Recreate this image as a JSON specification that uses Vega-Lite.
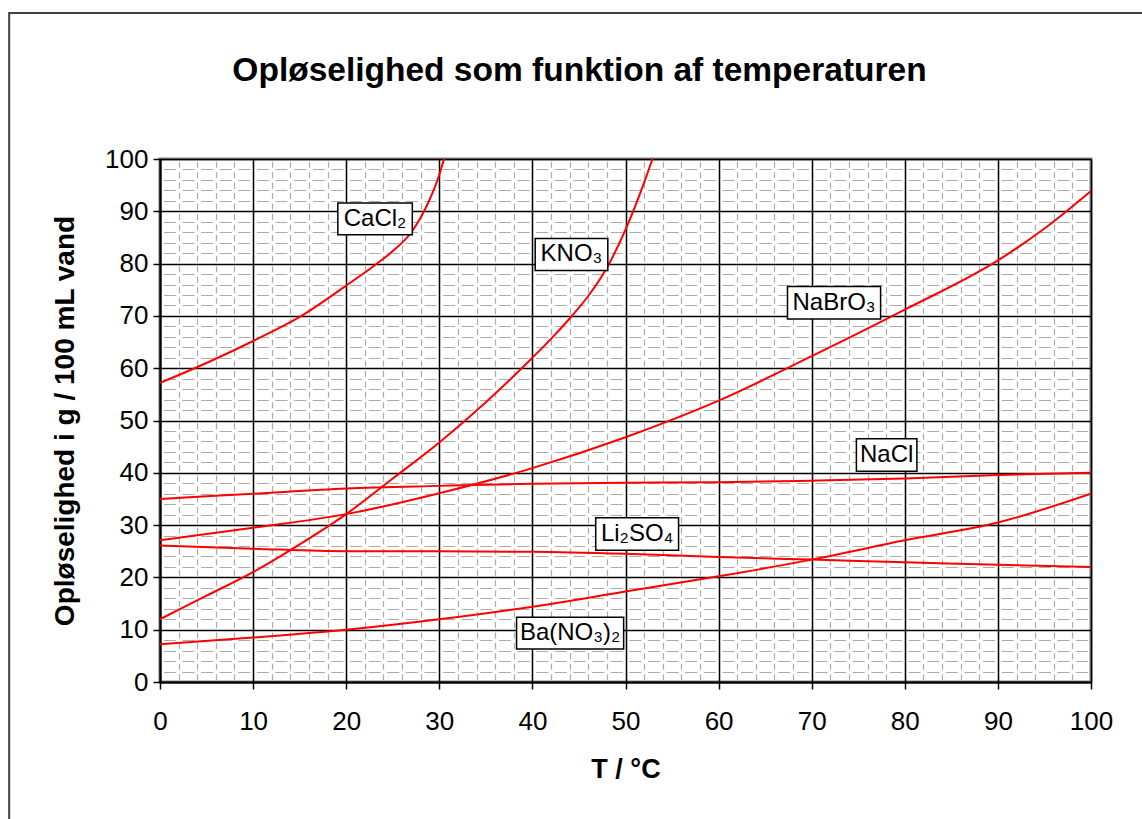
{
  "$schema": "https://vega.github.io/schema/vega-lite/v6.json",
  "width": 931,
  "height": 523,
  "autosize": {"type": "none"},
  "padding": {"left": 160, "top": 159, "right": 51, "bottom": 137},
  "background": "white",
  "title": {
    "text": "Opløselighed som funktion af temperaturen",
    "font": "Liberation Sans",
    "fontSize": 33.5,
    "fontWeight": "bold",
    "color": "#000000",
    "anchor": "middle",
    "frame": "group",
    "baseline": "alphabetic",
    "dx": -46,
    "offset": -102
  },
  "config": {
    "view": {"stroke": "#808080", "strokeWidth": 3},
    "font": "Liberation Sans"
  },
  "datasets": {
    "curves": [
      {"s": "CaCl2", "T": 0, "v": 57.2},
      {"s": "CaCl2", "T": 5, "v": 61},
      {"s": "CaCl2", "T": 10, "v": 65.2},
      {"s": "CaCl2", "T": 15, "v": 69.8},
      {"s": "CaCl2", "T": 20, "v": 75.8},
      {"s": "CaCl2", "T": 23, "v": 79.6},
      {"s": "CaCl2", "T": 25, "v": 82.4},
      {"s": "CaCl2", "T": 27, "v": 86},
      {"s": "CaCl2", "T": 28, "v": 88.8},
      {"s": "CaCl2", "T": 29, "v": 92.4},
      {"s": "CaCl2", "T": 30, "v": 97},
      {"s": "CaCl2", "T": 30.5, "v": 100},
      {"s": "KNO3", "T": 0, "v": 12},
      {"s": "KNO3", "T": 5, "v": 16.5},
      {"s": "KNO3", "T": 10, "v": 21},
      {"s": "KNO3", "T": 15, "v": 26.3},
      {"s": "KNO3", "T": 20, "v": 32.1},
      {"s": "KNO3", "T": 25, "v": 38.9},
      {"s": "KNO3", "T": 30, "v": 45.8},
      {"s": "KNO3", "T": 35, "v": 53.5},
      {"s": "KNO3", "T": 40, "v": 62},
      {"s": "KNO3", "T": 42, "v": 65.6},
      {"s": "KNO3", "T": 44, "v": 69.5},
      {"s": "KNO3", "T": 46, "v": 73.8},
      {"s": "KNO3", "T": 48, "v": 79.2},
      {"s": "KNO3", "T": 50, "v": 86.5},
      {"s": "KNO3", "T": 52, "v": 95.5},
      {"s": "KNO3", "T": 52.9, "v": 100},
      {"s": "NaBrO3", "T": 0, "v": 27.1},
      {"s": "NaBrO3", "T": 10, "v": 29.5},
      {"s": "NaBrO3", "T": 20, "v": 32.1},
      {"s": "NaBrO3", "T": 30, "v": 36.1},
      {"s": "NaBrO3", "T": 40, "v": 40.9},
      {"s": "NaBrO3", "T": 50, "v": 46.8},
      {"s": "NaBrO3", "T": 60, "v": 53.8},
      {"s": "NaBrO3", "T": 70, "v": 62.3},
      {"s": "NaBrO3", "T": 80, "v": 71.2},
      {"s": "NaBrO3", "T": 90, "v": 80.6},
      {"s": "NaBrO3", "T": 95, "v": 86.7},
      {"s": "NaBrO3", "T": 100, "v": 93.9},
      {"s": "NaCl", "T": 0, "v": 35},
      {"s": "NaCl", "T": 10, "v": 36},
      {"s": "NaCl", "T": 20, "v": 37},
      {"s": "NaCl", "T": 30, "v": 37.5},
      {"s": "NaCl", "T": 40, "v": 37.9},
      {"s": "NaCl", "T": 50, "v": 38.1},
      {"s": "NaCl", "T": 60, "v": 38.2},
      {"s": "NaCl", "T": 70, "v": 38.5},
      {"s": "NaCl", "T": 80, "v": 38.9},
      {"s": "NaCl", "T": 90, "v": 39.6},
      {"s": "NaCl", "T": 100, "v": 40},
      {"s": "Li2SO4", "T": 0, "v": 26.1},
      {"s": "Li2SO4", "T": 10, "v": 25.5},
      {"s": "Li2SO4", "T": 20, "v": 25.0},
      {"s": "Li2SO4", "T": 30, "v": 25.0},
      {"s": "Li2SO4", "T": 40, "v": 24.9},
      {"s": "Li2SO4", "T": 50, "v": 24.5},
      {"s": "Li2SO4", "T": 60, "v": 23.9},
      {"s": "Li2SO4", "T": 70, "v": 23.4},
      {"s": "Li2SO4", "T": 80, "v": 22.9},
      {"s": "Li2SO4", "T": 90, "v": 22.4},
      {"s": "Li2SO4", "T": 100, "v": 22.0},
      {"s": "Ba(NO3)2", "T": 0, "v": 7.2},
      {"s": "Ba(NO3)2", "T": 10, "v": 8.5},
      {"s": "Ba(NO3)2", "T": 20, "v": 10.0},
      {"s": "Ba(NO3)2", "T": 30, "v": 12.0},
      {"s": "Ba(NO3)2", "T": 40, "v": 14.4},
      {"s": "Ba(NO3)2", "T": 50, "v": 17.3},
      {"s": "Ba(NO3)2", "T": 60, "v": 20.2},
      {"s": "Ba(NO3)2", "T": 70, "v": 23.4},
      {"s": "Ba(NO3)2", "T": 80, "v": 27.1},
      {"s": "Ba(NO3)2", "T": 90, "v": 30.5},
      {"s": "Ba(NO3)2", "T": 100, "v": 36.0}
    ],
    "labels": [
      {"name": "CaCl₂", "x1": 19.1, "x2": 27.1, "y1": 91.6, "y2": 85.5},
      {"name": "KNO₃", "x1": 40.3, "x2": 48.1, "y1": 84.8, "y2": 78.7},
      {"name": "NaBrO₃", "x1": 67.4, "x2": 77.4, "y1": 75.6, "y2": 69.4},
      {"name": "NaCl", "x1": 74.8, "x2": 81.3, "y1": 46.5, "y2": 40.3},
      {"name": "Li₂SO₄", "x1": 46.8, "x2": 55.7, "y1": 31.4, "y2": 25.2},
      {"name": "Ba(NO₃)₂", "x1": 38.3, "x2": 49.8, "y1": 12.4, "y2": 6.3}
    ],
    "frame": [
      {"x1": -16.2, "x2": 110, "y1": 127.9, "y2": -40}
    ]
  },
  "layer": [
    {
      "data": {"name": "curves"},
      "mark": {"type": "point", "opacity": 0},
      "encoding": {
        "x": {
          "field": "T", "type": "quantitative",
          "scale": {"domain": [0, 100], "nice": false, "zero": false},
          "axis": {
            "orient": "bottom", "tickCount": 50, "grid": true,
            "gridColor": "#ababab", "gridWidth": 1.2, "gridDash": [6, 4.46], "gridDashOffset": 8.23,
            "labels": false, "ticks": false, "domain": false, "title": null
          }
        },
        "y": {
          "field": "v", "type": "quantitative",
          "scale": {"domain": [0, 100], "nice": false, "zero": false},
          "axis": {
            "orient": "left", "tickCount": 50, "grid": true,
            "gridColor": "#ababab", "gridWidth": 1.2, "gridDash": [12, 6.62], "gridDashOffset": 15.31,
            "labels": false, "ticks": false, "domain": false, "title": null
          }
        }
      }
    },
    {
      "data": {"name": "frame"},
      "mark": {"type": "rect", "filled": false, "stroke": "#404040", "strokeWidth": 2, "clip": false},
      "encoding": {
        "x": {"field": "x1", "type": "quantitative", "axis": null},
        "x2": {"field": "x2"},
        "y": {"field": "y1", "type": "quantitative", "axis": null},
        "y2": {"field": "y2"}
      }
    },
    {
      "data": {"name": "curves"},
      "mark": {"type": "line", "color": "#ff0000", "strokeWidth": 2, "interpolate": "monotone", "clip": true},
      "encoding": {
        "x": {
          "field": "T", "type": "quantitative",
          "axis": {
            "orient": "bottom", "values": [0, 10, 20, 30, 40, 50, 60, 70, 80, 90, 100],
            "grid": true, "gridColor": "#000000", "gridWidth": 1.5,
            "domainColor": "#000000", "domainWidth": 2,
            "tickColor": "#000000", "tickWidth": 1.5, "tickSize": 7,
            "labelFont": "Liberation Sans", "labelFontSize": 26, "labelColor": "#000000", "labelPadding": 19,
            "labelFlush": false, "labelOverlap": false,
            "title": "T / °C", "titleFont": "Liberation Sans", "titleFontSize": 27, "titleFontWeight": "bold",
            "titleColor": "#000000", "titlePadding": 22
          }
        },
        "y": {
          "field": "v", "type": "quantitative",
          "axis": {
            "orient": "left", "values": [0, 10, 20, 30, 40, 50, 60, 70, 80, 90, 100],
            "grid": true, "gridColor": "#000000", "gridWidth": 1.5,
            "domainColor": "#000000", "domainWidth": 2,
            "tickColor": "#000000", "tickWidth": 1.5, "tickSize": 7,
            "labelFont": "Liberation Sans", "labelFontSize": 26, "labelColor": "#000000", "labelPadding": 5,
            "labelFlush": false, "labelOverlap": false,
            "title": "Opløselighed i g / 100 mL vand", "titleFont": "Liberation Sans", "titleFontSize": 28,
            "titleFontWeight": "bold", "titleColor": "#000000", "titlePadding": 25
          }
        },
        "detail": {"field": "s", "type": "nominal"}
      }
    },
    {
      "data": {"name": "labels"},
      "mark": {"type": "rect", "fill": "#ffffff", "stroke": "#000000", "strokeWidth": 1.5},
      "encoding": {
        "x": {"field": "x1", "type": "quantitative", "axis": null},
        "x2": {"field": "x2"},
        "y": {"field": "y1", "type": "quantitative", "axis": null},
        "y2": {"field": "y2"}
      }
    },
    {
      "data": {"name": "labels"},
      "transform": [
        {"calculate": "(datum.x1 + datum.x2) / 2", "as": "cx"},
        {"calculate": "(datum.y1 + datum.y2) / 2", "as": "cy"}
      ],
      "mark": {"type": "text", "font": "Liberation Sans", "fontSize": 24, "color": "#000000", "align": "center", "baseline": "middle"},
      "encoding": {
        "x": {"field": "cx", "type": "quantitative", "axis": null},
        "y": {"field": "cy", "type": "quantitative", "axis": null},
        "text": {"field": "name", "type": "nominal"}
      }
    }
  ],
  "resolve": {"axis": {"x": "independent", "y": "independent"}}
}
